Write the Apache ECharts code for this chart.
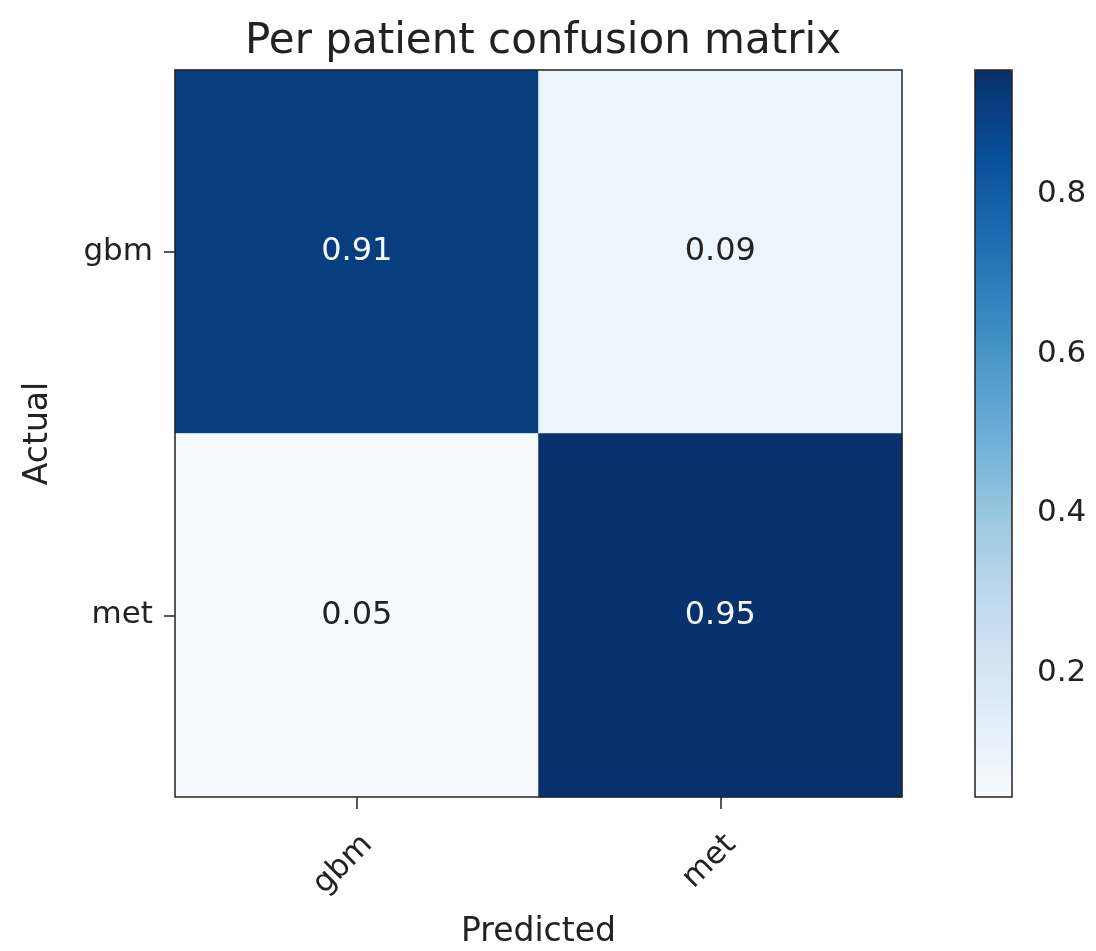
<!DOCTYPE html>
<html>
<head>
<meta charset="utf-8">
<script src="https://cdn.jsdelivr.net/npm/echarts@6/dist/echarts.min.js"></script>
<style>
html,body{margin:0;padding:0;background:#fff;}
#chart{width:1096px;height:951px;}
</style>
</head>
<body>
<div id="chart"></div>
<script>
// ---- data ----
const predictedLabels = ['gbm', 'met'];
const actualLabels = ['gbm', 'met'];
const gbmRow = [0.91, 0.09];   // actual gbm -> predicted gbm, met
const metRow = [0.05, 0.95];   // actual met -> predicted gbm, met
const colorbarTicks = [0.2, 0.4, 0.6, 0.8];
const colorbarRange = [0.045, 0.955];
const title = 'Per patient confusion matrix';

const blues = ['#f7fbff','#deebf7','#c6dbef','#9ecae1','#6baed6','#4292c6','#2171b5','#08519c','#08306b'];
const FONT = 'DejaVu Sans';
const TXT = '#222';

const rows = [gbmRow, metRow];
const thresh = (colorbarRange[0] + colorbarRange[1]) / 2;
const cells = [];
rows.forEach((row, r) => row.forEach((v, c) => {
  cells.push({
    value: [c, r, v],
    label: { color: v > thresh ? '#f4f8ff' : TXT }
  });
}));

const chart = echarts.init(document.getElementById('chart'), null, { renderer: 'canvas' });
chart.setOption({
  animation: false,
  backgroundColor: '#fff',
  title: {
    text: title,
    left: 538,
    top: 16,
    textAlign: 'center',
    textStyle: { fontFamily: FONT, fontSize: 42, fontWeight: 'normal', color: TXT }
  },
  grid: [
    { left: 175, top: 70, width: 727, height: 727, show: true, borderColor: '#222', borderWidth: 1.5, backgroundColor: 'transparent', z: 10, containLabel: false, outerBoundsMode: 'none' },
    { left: 975, top: 70, width: 37, height: 727, show: true, borderColor: '#222', borderWidth: 1.5, backgroundColor: 'transparent', z: 10, containLabel: false, outerBoundsMode: 'none' }
  ],
  xAxis: [
    {
      type: 'category', gridIndex: 0, data: predictedLabels,
      name: 'Predicted', nameLocation: 'middle', nameGap: 119,
      nameTextStyle: { fontFamily: FONT, fontSize: 33, color: TXT },
      axisLine: { show: false },
      axisTick: { show: true, alignWithLabel: true, length: 12, lineStyle: { color: '#222', width: 1.5 } },
      axisLabel: { rotate: 45, margin: 32, align: 'right', verticalAlign: 'top', fontFamily: FONT, fontSize: 31, color: TXT },
      splitLine: { show: false }
    },
    {
      type: 'value', gridIndex: 1, min: 0, max: 1, show: false
    }
  ],
  yAxis: [
    {
      type: 'category', gridIndex: 0, data: actualLabels, inverse: true,
      name: 'Actual', nameLocation: 'middle', nameGap: 120, nameRotate: 90,
      nameTextStyle: { fontFamily: FONT, fontSize: 33, color: TXT },
      axisLine: { show: false },
      axisTick: { show: true, alignWithLabel: true, length: 11, lineStyle: { color: '#222', width: 1.5 } },
      axisLabel: { margin: 22, fontFamily: FONT, fontSize: 31, color: TXT },
      splitLine: { show: false }
    },
    {
      type: 'value', gridIndex: 1, position: 'right',
      min: colorbarRange[0], max: colorbarRange[1],
      axisLine: { show: false },
      axisTick: { show: true, length: 11, customValues: colorbarTicks, lineStyle: { color: '#222', width: 1.5 } },
      axisLabel: { show: true, margin: 25, customValues: colorbarTicks, fontFamily: FONT, fontSize: 31, color: TXT,
        formatter: v => v.toFixed(1) },
      splitLine: { show: false }
    }
  ],
  visualMap: {
    type: 'continuous',
    min: colorbarRange[0], max: colorbarRange[1],
    seriesIndex: 0,
    orient: 'vertical',
    left: 975, top: 70,
    itemWidth: 37, itemHeight: 727,
    padding: 0,
    calculable: false,
    showLabel: false,
    text: null,
    inRange: { color: blues }
  },
  series: [{
    type: 'heatmap',
    xAxisIndex: 0, yAxisIndex: 0,
    data: cells,
    label: {
      show: true,
      fontFamily: FONT, fontSize: 32,
      formatter: p => p.value[2].toFixed(2)
    },
    itemStyle: { borderWidth: 0 },
    emphasis: { disabled: true }
  }]
});
</script>
</body>
</html>
